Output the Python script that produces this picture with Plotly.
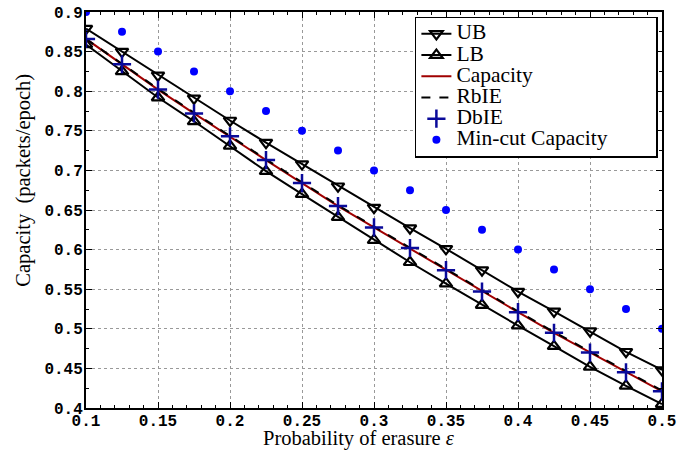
import plotly.graph_objects as go

eps = [0.1, 0.125, 0.15, 0.175, 0.2, 0.225, 0.25, 0.275, 0.3, 0.325, 0.35,
       0.375, 0.4, 0.425, 0.45, 0.475, 0.5]
ub = [0.879, 0.850, 0.820, 0.791, 0.763, 0.735, 0.708, 0.680, 0.653, 0.627,
      0.601, 0.574, 0.547, 0.522, 0.497, 0.471, 0.448]
lb = [0.859, 0.825, 0.792, 0.762, 0.731, 0.699, 0.670, 0.641, 0.612, 0.584,
      0.557, 0.530, 0.504, 0.478, 0.452, 0.428, 0.405]
capacity = [0.866, 0.834, 0.802, 0.772, 0.742, 0.713, 0.684, 0.655, 0.628,
            0.601, 0.574, 0.547, 0.521, 0.495, 0.470, 0.445, 0.421]
rbie = [0.866, 0.834, 0.803, 0.773, 0.743, 0.714, 0.685, 0.656, 0.629,
        0.602, 0.575, 0.548, 0.522, 0.496, 0.471, 0.446, 0.422]
dbie = [0.866, 0.834, 0.802, 0.772, 0.743, 0.713, 0.684, 0.655, 0.628,
        0.602, 0.574, 0.547, 0.521, 0.495, 0.470, 0.445, 0.421]
mincut = [0.9, 0.875, 0.85, 0.825, 0.8, 0.775, 0.75, 0.725, 0.7, 0.675, 0.65,
          0.625, 0.6, 0.575, 0.55, 0.525, 0.5]
xticks = [0.1, 0.15, 0.2, 0.25, 0.3, 0.35, 0.4, 0.45, 0.5]
xticktext = ["0.1", "0.15", "0.2", "0.25", "0.3", "0.35", "0.4", "0.45", "0.5"]
yticks = [0.4, 0.45, 0.5, 0.55, 0.6, 0.65, 0.7, 0.75, 0.8, 0.85, 0.9]
yticktext = ["0.4", "0.45", "0.5", "0.55", "0.6", "0.65", "0.7", "0.75", "0.8", "0.85", "0.9"]
names = ["UB", "LB", "Capacity", "RbIE", "DbIE", "Min-cut Capacity"]
xtitle = "Probability of erasure <i>ε</i>"
ytitle = "Capacity  (packets/epoch)"


def lname(s, pad=0):
    tail = ("\u2003" * pad + "\u200b") if pad else ""
    return '<span style="font-size:21.5px">' + s + tail + "</span>"


fig = go.Figure()
fig.add_trace(go.Scatter(x=eps, y=ub, name=lname(names[0]), mode="lines+markers",
                         line=dict(color="black", width=2),
                         marker=dict(symbol="triangle-down-open", size=11, color="black",
                                     line=dict(width=2.2, color="black"))))
fig.add_trace(go.Scatter(x=eps, y=lb, name=lname(names[1]), mode="lines+markers",
                         line=dict(color="black", width=2),
                         marker=dict(symbol="triangle-up-open", size=11, color="black",
                                     line=dict(width=2.2, color="black"))))
fig.add_trace(go.Scatter(x=eps, y=capacity, name=lname(names[2]), mode="lines",
                         line=dict(color="#a00000", width=2)))
fig.add_trace(go.Scatter(x=eps, y=rbie, name=lname(names[3]), mode="lines",
                         line=dict(color="black", width=2, dash="dash")))
fig.add_trace(go.Scatter(x=eps, y=dbie, name=lname(names[4]), mode="markers",
                         marker=dict(symbol="cross-thin", size=13, color="#0a0a9a",
                                     line=dict(width=2.5, color="#0a0a9a"))))
fig.add_trace(go.Scatter(x=eps, y=mincut, name=lname(names[5], 2), mode="markers",
                         marker=dict(symbol="circle", size=8, color="#0000ff")))

tickfont = dict(family="Liberation Mono", size=16, color="black", weight="bold")
axis_common = dict(ticks="inside", ticklen=6, tickcolor="black", mirror="ticks",
                   showline=True, linecolor="black", linewidth=2,
                   showgrid=True, gridcolor="#999999", griddash="dot", gridwidth=1,
                   zeroline=False, tickfont=tickfont, automargin=False)
fig.update_xaxes(range=[0.1, 0.5], tickvals=xticks, ticktext=xticktext,
                 ticklabelstandoff=-3,
                 minor=dict(dtick=0.01, ticks="inside", ticklen=3, tickcolor="black", showgrid=False),
                 **axis_common)
fig.update_yaxes(range=[0.4, 0.9], tickvals=yticks, ticktext=yticktext,
                 ticklabelstandoff=-2,
                 minor=dict(dtick=0.025, ticks="inside", ticklen=3, tickcolor="black", showgrid=False),
                 **axis_common)

fig.add_annotation(text=xtitle, xref="paper", yref="paper", x=0.474, y=-0.077,
                   xanchor="center", yanchor="middle", showarrow=False,
                   font=dict(family="Liberation Serif", size=20.5, color="black"))
fig.add_annotation(text=ytitle, xref="paper", yref="paper", x=-0.1076, y=0.574,
                   xanchor="center", yanchor="middle", showarrow=False, textangle=-90,
                   font=dict(family="Liberation Serif", size=20.5, color="black"))

fig.update_layout(
    width=691, height=450,
    margin=dict(l=86, r=29, t=12, b=42),
    plot_bgcolor="white", paper_bgcolor="white",
    legend=dict(x=0.571, y=0.988, xanchor="left", yanchor="top",
                bgcolor="white", bordercolor="black", borderwidth=1.5,
                font=dict(family="Liberation Serif", size=14, color="black"),
                tracegroupgap=0, itemwidth=30),
)

fig.write_html("out.html")
